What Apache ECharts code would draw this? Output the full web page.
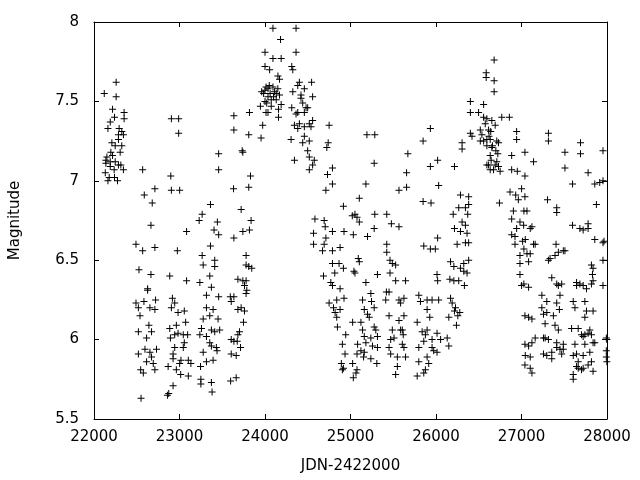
<!DOCTYPE html>
<html>
<head>
<meta charset="utf-8">
<script src="https://cdn.jsdelivr.net/npm/echarts@6/dist/echarts.min.js"></script>
<style>html,body{margin:0;padding:0;background:#fff}#c{width:640px;height:480px}</style>
</head>
<body>
<div id="c"></div>
<script>
// [JDN-2422000, magnitude] observations, grouped by time span
var seg1 = [[22259,7.62],[22120,7.55],[22259,7.53],[22217,7.45],[22352,7.43],[22190,7.37],[22240,7.40],[22352,7.39],[22163,7.33],[22294,7.33],[22325,7.31],[22286,7.29],[22344,7.29],[22286,7.26],[22209,7.24],[22248,7.22],[22325,7.22],[22197,7.18],[22306,7.18],[22151,7.15],[22217,7.16],[22139,7.13],[22190,7.12],[22248,7.12],[22139,7.11],[22286,7.10],[22190,7.09],[22344,7.07],[22132,7.05],[22236,7.07],[22178,7.02],[22240,7.02],[22163,7.00],[22275,7.00],[22314,7.10],
[22569,7.07],[22898,7.03],[22905,6.94],[23002,6.94],[22712,6.95],[22588,6.91],[22681,6.86],[22666,6.72],[22491,6.60],[22569,6.56],[22712,6.58],[22975,6.56],[22526,6.44],[22666,6.41],[22886,6.40],[22627,6.32],[22627,6.31],[22491,6.23],[22584,6.24],[22720,6.25],[22519,6.20],[22654,6.20],[22712,6.19],[22538,6.15],[22917,6.26],[22944,6.23],[22905,6.20],[22983,6.17],[22642,6.09],[22519,6.05],[22673,6.05],[22615,6.01],[22886,6.07],[22963,6.09],[22944,6.03],[22983,6.04],[22894,6.01],[22596,5.94],[22731,5.94],[22519,5.91],[22654,5.92],[22673,5.89],[22693,5.85],[22615,5.86],[22546,5.81],[22577,5.79],[22712,5.81],[22944,5.95],[22925,5.91],[22925,5.88],[22867,5.83],[23002,5.85],[22963,5.81],[23014,5.78],[22925,5.71],[22874,5.66],[22859,5.65],[22550,5.63],[22905,7.39],[22990,7.39],[22990,7.30]];

var seg2 = [[24000,7.81],[24000,7.72],[24012,7.59],[23961,7.56],[23984,7.55],[24000,7.50],[23946,7.47],[24012,7.43],[23636,7.41],[23818,7.43],[23973,7.35],[23636,7.32],[23810,7.29],[23954,7.27],[23733,7.19],[23741,7.18],[23458,7.17],[23458,7.07],[23830,7.03],[23632,6.95],[23810,6.96],[23362,6.85],[23265,6.79],[23230,6.75],[23443,6.74],[23721,6.82],[23837,6.75],[23083,6.68],[23404,6.69],[23458,6.66],[23741,6.68],[23818,6.69],[23636,6.64],[23362,6.59],[23265,6.53],[23779,6.53],[23277,6.47],[23412,6.50],[23412,6.46],[23779,6.47],[23810,6.46],[23845,6.45],[23354,6.40],[23083,6.37],[23238,6.36],[23373,6.33],[23683,6.38],[23741,6.37],[23779,6.37],[23760,6.34],[23787,6.31],[23779,6.29],[23315,6.28],[23458,6.27],[23594,6.27],[23636,6.27],[23605,6.24],[23315,6.20],[23393,6.19],[23683,6.19],[23721,6.20],[23056,6.18],[23760,6.18],[23072,6.11],[23277,6.13],[23354,6.15],[23451,6.13],[23748,6.11],[23257,6.07],[23373,6.06],[23470,6.06],[23044,6.03],[23095,6.03],[23238,6.03],[23315,6.02],[23412,6.05],[23702,6.05],[23683,6.03],[23605,6.00],[23636,5.99],[23675,5.99],[23056,5.98],[23044,5.95],[23277,5.92],[23354,5.98],[23373,5.96],[23431,5.95],[23439,5.93],[23714,5.95],[23605,5.91],[23663,5.90],[23017,5.87],[23103,5.87],[23133,5.85],[23315,5.86],[23393,5.87],[23246,5.83],[23103,5.77],[23250,5.75],[23250,5.72],[23373,5.73],[23598,5.74],[23663,5.76],[23381,5.67]];

var seg3 = [[24093,7.96],[24363,7.96],[24182,7.89],[24093,7.77],[24189,7.77],[24363,7.81],[24313,7.72],[24325,7.70],[24054,7.70],[24151,7.66],[24170,7.64],[24402,7.62],[24545,7.62],[24383,7.60],[24460,7.58],[24035,7.58],[24093,7.59],[24325,7.56],[24557,7.53],[24421,7.54],[24131,7.55],[24170,7.54],[24035,7.53],[24073,7.51],[24131,7.51],[24189,7.48],[24421,7.52],[24441,7.49],[24480,7.46],[24499,7.46],[24383,7.43],[24460,7.43],[24073,7.47],[24035,7.43],[24158,7.45],[24313,7.46],[24158,7.40],[24363,7.42],[24557,7.38],[24518,7.36],[24344,7.35],[24402,7.36],[24383,7.33],[24460,7.34],[24538,7.34],[24305,7.26],[24460,7.28],[24441,7.24],[24518,7.25],[24750,7.35],[24739,7.24],[24723,7.21],[24499,7.19],[24344,7.13],[24518,7.15],[24576,7.13],[24557,7.10],[24518,7.07],[24789,7.08],[24731,7.04],[24789,6.98],[24712,6.94],[24917,6.84],[24584,6.76],[24692,6.75],[24704,6.71],[24789,6.68],[24924,6.68],[24568,6.67],[24712,6.64],[24568,6.60],[24692,6.60],[24673,6.56],[24789,6.56],[24878,6.58],[24789,6.48],[24866,6.48],[24917,6.45],[24684,6.40],[24816,6.42],[24770,6.36],[24789,6.34],[24878,6.32],[24839,6.25],[24924,6.26],[24750,6.23],[24801,6.20],[24878,6.19],[24820,6.17],[24839,6.14],[24847,6.08],[24944,6.03],[24905,5.97],[24936,5.91],[24893,5.85],[24917,5.82],[24905,5.81],[25033,5.76],[25021,6.78],[25033,6.66],[25040,6.43],
[24000,7.57],[24050,7.60],[24110,7.56],[24150,7.58],[24020,7.49],[24100,7.53],[24060,7.55]];

var seg4 = [[25192,7.29],[25284,7.29],[25934,7.33],[25849,7.25],[25671,7.17],[25277,7.11],[25656,7.05],[25934,7.09],[26019,7.13],[25180,6.98],[25567,6.94],[25656,6.96],[26031,6.97],[25103,6.89],[25849,6.87],[25942,6.86],[25052,6.79],[25076,6.77],[25103,6.74],[25284,6.79],[25424,6.79],[25478,6.73],[25567,6.71],[25277,6.70],[25199,6.65],[25424,6.60],[25424,6.55],[26019,6.64],[25857,6.59],[25934,6.57],[25992,6.57],[25091,6.51],[25103,6.49],[25462,6.50],[25489,6.48],[25528,6.47],[25052,6.42],[25180,6.36],[25315,6.41],[25462,6.42],[25528,6.37],[25644,6.37],[26012,6.41],[26019,6.37],[25420,6.30],[25451,6.30],[25238,6.29],[25141,6.25],[25246,6.24],[25161,6.19],[25277,6.20],[25199,6.16],[25219,6.14],[25412,6.25],[25567,6.25],[25586,6.23],[25625,6.26],[25451,6.15],[25625,6.15],[25799,6.28],[25818,6.24],[25896,6.25],[25954,6.25],[26031,6.25],[25896,6.19],[25927,6.14],[25025,6.11],[25122,6.11],[25141,6.06],[25161,6.02],[25238,6.01],[25277,6.08],[25296,6.06],[25315,6.02],[25257,5.96],[25315,5.95],[25180,5.98],[25161,5.92],[25083,5.97],[25076,5.91],[25025,5.85],[25122,5.93],[25153,5.89],[25238,5.88],[25308,5.85],[25567,6.12],[25606,6.06],[25617,6.03],[25606,5.97],[25625,5.95],[25470,6.00],[25451,5.95],[25509,6.01],[25489,6.06],[25586,6.06],[25470,5.91],[25548,5.89],[25644,5.89],[25548,5.83],[25780,6.11],[25838,6.05],[25876,6.03],[25896,6.06],[25954,6.00],[26012,6.04],[25857,5.99],[25799,5.95],[25954,5.95],[26012,5.92],[25973,5.93],[25799,5.86],[25896,5.89],[25915,5.85],[25876,5.81],[25857,5.79],[25064,5.79],[25076,5.81],[25528,5.78],[25780,5.77]];

var seg5 = [[26680,7.76],[26587,7.68],[26680,7.63],[26587,7.65],[26680,7.56],[26402,7.50],[26557,7.48],[26402,7.43],[26498,7.43],[26557,7.40],[26595,7.39],[26653,7.38],[26769,7.40],[26858,7.40],[26576,7.36],[26518,7.32],[26615,7.32],[26692,7.35],[26402,7.30],[26421,7.28],[26537,7.29],[26557,7.25],[26595,7.26],[26518,7.25],[26634,7.26],[26595,7.22],[26653,7.21],[26711,7.25],[26731,7.24],[26943,7.31],[26943,7.26],[26305,7.24],[26305,7.20],[26634,7.16],[26723,7.17],[26885,7.16],[27040,7.18],[26645,7.13],[26711,7.12],[26615,7.10],[26692,7.10],[26731,7.09],[26595,7.10],[26634,7.07],[26673,7.07],[26750,7.06],[26885,7.07],[26951,7.06],[27040,7.03],[26216,7.09],[26286,6.91],[26382,6.90],[26866,6.93],[26932,6.91],[27001,6.95],[27040,6.90],[26963,6.88],[26742,6.86],[26266,6.83],[26344,6.83],[26382,6.85],[26371,6.79],[26201,6.79],[26305,6.74],[26216,6.70],[26344,6.72],[26286,6.68],[26363,6.67],[26905,6.81],[27028,6.81],[26885,6.76],[26982,6.74],[26943,6.70],[26885,6.66],[26924,6.65],[26247,6.60],[26344,6.61],[26382,6.61],[26924,6.60],[27013,6.62],[27028,6.57],[26170,6.49],[26209,6.46],[26286,6.45],[26325,6.48],[26382,6.50],[26982,6.53],[26982,6.48],[26982,6.41],[27001,6.34],[27028,6.35],[26162,6.38],[26209,6.37],[26266,6.37],[26332,6.34],[26325,6.43],[26363,6.42],[26170,6.26],[26189,6.23],[26228,6.20],[26216,6.18],[26278,6.17],[26255,6.15],[26150,6.14],[26239,6.09],[27040,6.15],[26054,6.00],[26131,6.01],[26150,5.96],[27040,5.97],[27040,5.84],
[26620,7.28],[26660,7.22],[26700,7.19],[26640,7.31]];

var seg6 = [[27315,7.30],[27315,7.25],[27690,7.24],[27690,7.17],[27953,7.19],[27141,7.12],[27508,7.18],[27508,7.08],[27597,6.98],[27779,7.05],[27857,6.98],[27953,7.00],[27915,6.99],[27304,6.88],[27412,6.83],[27412,6.80],[27876,6.85],[27064,6.81],[27025,6.72],[27102,6.70],[27122,6.71],[27597,6.72],[27683,6.70],[27721,6.69],[27779,6.73],[27779,6.70],[27857,6.63],[27953,6.61],[27965,6.62],[27953,6.50],[27044,6.63],[27141,6.60],[27160,6.60],[27404,6.60],[27315,6.50],[27334,6.51],[27392,6.53],[27431,6.55],[27489,6.56],[27508,6.56],[27064,6.54],[27102,6.54],[27083,6.49],[27083,6.33],[27354,6.39],[27412,6.35],[27431,6.34],[27470,6.35],[27450,6.28],[27644,6.36],[27644,6.34],[27683,6.35],[27721,6.34],[27760,6.32],[27818,6.35],[27837,6.37],[27830,6.41],[27837,6.45],[27818,6.47],[27953,6.34],[27238,6.28],[27296,6.24],[27238,6.20],[27257,6.16],[27296,6.17],[27412,6.23],[27443,6.19],[27605,6.24],[27625,6.20],[27741,6.24],[27083,6.14],[27122,6.13],[27276,6.10],[27373,6.15],[27392,6.09],[27431,6.06],[27741,6.14],[27760,6.18],[27837,6.18],[27586,6.07],[27663,6.07],[27702,6.03],[27721,6.02],[27741,6.03],[27779,6.04],[27799,6.06],[27818,6.03],[27625,5.97],[27741,5.97],[27837,5.98],[27857,5.98],[27992,6.01],[27257,6.01],[27276,6.01],[27315,6.00],[27412,5.98],[27083,5.96],[27160,6.01],[27122,5.98],[27412,5.95],[27450,5.94],[27470,5.91],[27489,5.94],[27354,5.92],[27257,5.91],[27296,5.90],[27354,5.88],[27044,5.90],[27102,5.89],[27102,5.82],[27122,5.79],[27489,5.97],[27605,5.90],[27644,5.91],[27663,5.86],[27721,5.90],[27799,5.92],[27818,5.86],[27721,5.82],[27644,5.83],[27663,5.82],[27702,5.81],[27837,5.80],[27605,5.78],[27605,5.75],[27779,5.84],[27992,5.93],[27998,5.86],[27992,5.89],[27998,6.00]];

var xTitle = 'JDN-2422000';
var yTitle = 'Magnitude';
var xMin = 22000, xMax = 28000, xStep = 1000;
var yMin = 5.5, yMax = 8, yStep = 0.5;

var allPoints = seg1.concat(seg2, seg3, seg4, seg5, seg6);

var FONT = 'DejaVu Sans';
var txt = {color: '#000', fontSize: 15, fontFamily: FONT};
function axisBase(extra) {
  var a = {
    type: 'value',
    axisLine: {show: true, onZero: false, lineStyle: {color: '#000', width: 1}},
    axisTick: {show: true, inside: true, length: 5, lineStyle: {color: '#000', width: 1}},
    splitLine: {show: false}
  };
  for (var k in extra) a[k] = extra[k];
  return a;
}

var chart = echarts.init(document.getElementById('c'), null, {renderer: 'canvas'});
chart.setOption({
  animation: false,
  backgroundColor: '#fff',
  grid: {left: 91, right: 33, top: 22, bottom: 61, containLabel: false},
  xAxis: [
    axisBase({min: xMin, max: xMax, interval: xStep, position: 'bottom',
      axisLabel: {show: true, color: '#000', fontSize: 15, fontFamily: FONT, margin: 11, showMinLabel: true, showMaxLabel: true,
        formatter: function (v) { return String(v); }},
      name: xTitle, nameLocation: 'middle', nameGap: 40, nameTextStyle: txt}),
    axisBase({min: xMin, max: xMax, interval: xStep, position: 'top', axisLabel: {show: false}})
  ],
  yAxis: [
    axisBase({min: yMin, max: yMax, interval: yStep, position: 'left',
      axisLabel: {show: true, color: '#000', fontSize: 15, fontFamily: FONT, margin: 15, showMinLabel: true, showMaxLabel: true,
        formatter: function (v) { return String(v); }},
      name: yTitle, nameLocation: 'middle', nameGap: 71, nameRotate: 90, nameTextStyle: txt}),
    axisBase({min: yMin, max: yMax, interval: yStep, position: 'right', axisLabel: {show: false}})
  ],
  series: [{
    type: 'scatter',
    xAxisIndex: 0, yAxisIndex: 0,
    clip: false,
    symbol: 'path://M3,0H4V3H7V4H4V7H3V4H0V3H3Z',
    symbolSize: 7,
    itemStyle: {color: '#000', opacity: 1},
    data: allPoints
  }]
});
</script>
</body>
</html>
